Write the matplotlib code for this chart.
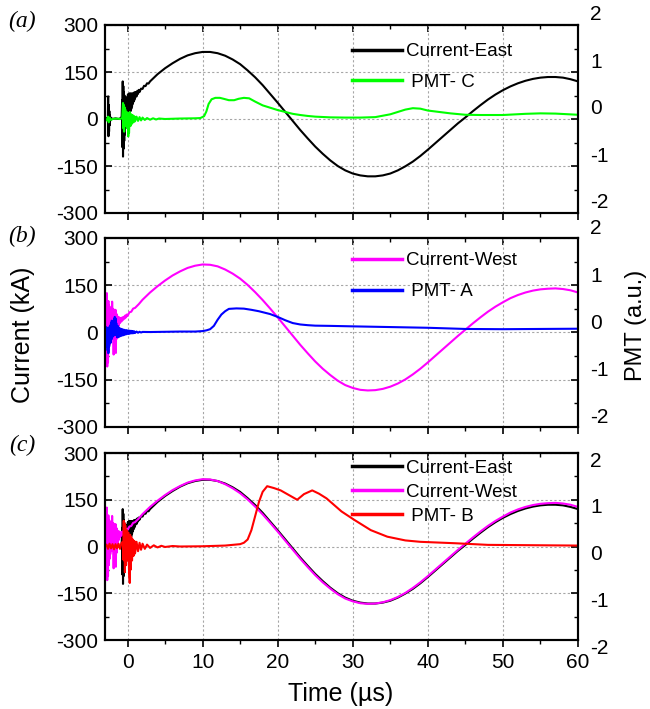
import numpy as np
import matplotlib.pyplot as plt
from matplotlib.ticker import MultipleLocator
from matplotlib.transforms import ScaledTranslation

plt.rcParams['font.family'] = ['Liberation Sans', 'DejaVu Sans']
plt.rcParams['axes.unicode_minus'] = False

# ---- data ----
# Current-East (kA)
east_t = [-3.0, -2.8, -2.62, -2.58, -2.54, -2.5, -2.46, -2.42, -2.38, -2.34,
          -2.3, -2.2, -2.0, -1.6, -1.2, -0.9, -0.78, -0.72, -0.68, -0.64,
          -0.6, -0.56, -0.52, -0.48, -0.44, -0.4, -0.36, -0.32, -0.28, -0.24,
          -0.2, -0.15, -0.1, -0.05, 0.0, 0.05, 0.1, 0.15, 0.2, 0.25,
          0.3, 0.35, 0.4, 0.45, 0.5, 0.55, 0.6, 0.65, 0.7, 0.75,
          0.8, 0.85, 0.9, 0.95, 1.0, 1.1, 1.2, 1.3, 1.4, 1.5,
          1.6, 1.8, 2.0, 2.2, 2.4, 2.6, 2.8, 3.0,
          4, 5, 6, 7, 8, 9, 10, 11, 12, 13, 14, 15, 16, 17, 18, 19, 20,
          21, 22, 23, 24, 25, 26, 27, 28, 29, 30, 31, 32, 33, 34, 35, 36,
          37, 38, 39, 40, 41, 42, 43, 44, 45, 46, 47, 48, 49, 50, 51, 52,
          53, 54, 55, 56, 57, 58, 59, 60]
east_i = [0, 3, -4, 72, -55, 45, -40, 25, -20, 12,
          -6, 4, 0, 2, 0, 3, 8, 60, -90, 120,
          -120, 105, -95, 85, -70, 75, -50, 60, -30, 55,
          -10, 65, 0, 70, 5, 78, 8, 80, 12, 82,
          18, 80, 25, 82, 32, 80, 40, 82, 48, 80,
          55, 84, 60, 85, 66, 86, 72, 90, 80, 93,
          86, 97, 96, 106, 105, 114, 113, 120,
          143, 162, 178, 192, 203, 210, 214, 214, 210, 202, 190, 175, 155, 133, 108, 80, 52,
          23, -6, -35, -62, -88, -111, -132, -150, -164, -174, -180, -183, -183, -180, -174, -164,
          -151, -136, -118, -98, -77, -56, -35, -14, 5, 25, 44, 62, 78, 92, 104, 114,
          122, 128, 132, 134, 134, 132, 127, 120]

# Current-West (kA)
west_t = [-3.0, -2.95, -2.9, -2.85, -2.8, -2.75, -2.7, -2.65, -2.6, -2.55,
          -2.5, -2.45, -2.4, -2.35, -2.3, -2.2, -2.1, -2.05, -2.0, -1.9,
          -1.85, -1.8, -1.7, -1.6, -1.55, -1.5, -1.45, -1.4, -1.35, -1.3,
          -1.2, -1.1, -1.0, -0.9, -0.8, -0.7, -0.6, -0.5, -0.4, -0.3,
          -0.2, -0.1, 0.0, 0.25, 0.5, 0.75, 1.0, 1.5,
          2, 3, 4, 5, 6, 7, 8, 9, 10, 11, 12, 13, 14, 15, 16, 17, 18, 19, 20,
          21, 22, 23, 24, 25, 26, 27, 28, 29, 30, 31, 32, 33, 34, 35, 36,
          37, 38, 39, 40, 41, 42, 43, 44, 45, 46, 47, 48, 49, 50, 51, 52,
          53, 54, 55, 56, 57, 58, 59, 60]
west_i = [0, 55, -35, 120, -60, 125, -108, 95, -95, 100,
          -60, 85, -40, 70, -25, 80, -15, 98, 5, 75,
          -70, 70, -40, 72, -65, 60, -20, 55, 0, 50,
          20, 48, 30, 45, 35, 48, 40, 50, 44, 54,
          48, 57, 53, 64, 66, 76, 78, 90,
          104, 127, 147, 165, 181, 194, 205, 212, 216, 215, 210, 200, 187, 171, 151, 128, 103, 76, 48,
          19, -10, -39, -66, -92, -115, -135, -153, -167, -176, -182, -184, -183, -179, -172, -162,
          -149, -133, -115, -95, -74, -53, -32, -11, 9, 29, 48, 66, 82, 96, 109, 119,
          127, 133, 137, 139, 140, 138, 134, 127]

# PMT-C (a.u.)
pmtc_t = [-3.0, -2.8, -2.6, -2.5, -2.4, -2.2, -2.0, -1.5, -1.0, -0.7,
          -0.6, -0.55, -0.5, -0.45, -0.4, -0.35, -0.3, -0.2, -0.1, 0.0,
          0.05, 0.1, 0.15, 0.2, 0.3, 0.4, 0.5, 0.6, 0.7, 0.8,
          0.9, 1.0, 1.2, 1.4, 1.6, 1.8, 2.0, 2.3, 2.6, 3.0,
          3.4, 3.8, 4.2, 5, 7, 9, 9.7, 10.2, 10.5, 10.8,
          11.2, 11.7, 12.3, 12.8, 13.5, 14.2, 14.8, 15.5, 16.2, 17,
          18, 19, 20, 21, 22, 23, 24, 25, 27, 29,
          31, 33, 35, 36, 37, 38, 39, 40, 41, 43,
          45, 47, 50, 53, 55, 57, 60]
pmtc_v = [0, -0.03, 0.05, -0.07, 0.03, -0.02, 0.0, 0.01, 0.0, 0.02,
          0.34, -0.2, 0.3, -0.27, 0.25, -0.15, 0.2, -0.1, 0.15, -0.2,
          0.1, -0.37, 0.12, -0.3, 0.15, -0.15, 0.1, -0.1, 0.08, -0.07,
          0.06, -0.05, 0.05, -0.04, 0.04, -0.03, 0.03, -0.02, 0.02, -0.015,
          0.015, -0.01, 0.01, 0.0, 0.01, 0.015, 0.02, 0.06, 0.16, 0.32,
          0.42, 0.45, 0.45, 0.43, 0.4, 0.4, 0.43, 0.45, 0.44, 0.37,
          0.29, 0.24, 0.19, 0.15, 0.11, 0.085, 0.065, 0.05, 0.035, 0.03,
          0.03, 0.04, 0.1, 0.15, 0.2, 0.23, 0.22, 0.18, 0.16, 0.12,
          0.09, 0.085, 0.085, 0.11, 0.12, 0.115, 0.09]

# PMT-A (a.u.)
pmta_t = [-3.0, -2.95, -2.9, -2.85, -2.8, -2.75, -2.7, -2.65, -2.6, -2.55,
          -2.5, -2.45, -2.4, -2.35, -2.3, -2.25, -2.2, -2.15, -2.1, -2.05,
          -2.0, -1.9, -1.8, -1.75, -1.7, -1.65, -1.6, -1.55, -1.5, -1.4,
          -1.3, -1.2, -1.1, -1.0, -0.9, -0.8, -0.7, -0.6, -0.5, -0.4,
          -0.3, -0.2, -0.1, 0.0, 0.1, 0.2, 0.3, 0.4, 0.5, 0.6,
          0.7, 0.8, 0.9, 1.0, 1.2, 1.4, 1.6, 1.8, 2.0,
          3, 5, 7, 9, 10, 10.5, 11, 11.5, 12, 12.5, 13, 13.5, 14.5, 15.5,
          16.5, 17.5, 18.5, 19, 20, 21, 22, 23, 24, 25, 27, 30,
          35, 40, 45, 50, 55, 60]
pmta_v = [0, -0.15, 0.12, -0.3, 0.08, -0.25, 0.1, -0.38, 0.05, -0.44,
          0.0, -0.3, 0.12, -0.2, 0.15, -0.22, 0.2, -0.15, 0.25, -0.1,
          0.22, -0.08, 0.28, -0.05, 0.33, 0.0, 0.3, -0.05, 0.2, -0.1,
          0.14, -0.1, 0.1, -0.08, 0.08, -0.07, 0.07, -0.06, 0.06, -0.05,
          0.05, -0.04, 0.05, -0.03, 0.04, -0.03, 0.04, -0.02, 0.035, -0.02,
          0.03, -0.015, 0.025, -0.01, 0.02, -0.005, 0.015, 0.0, 0.012,
          0.01, 0.015, 0.02, 0.02, 0.03, 0.045, 0.07, 0.14, 0.27, 0.38, 0.45, 0.5, 0.51, 0.505,
          0.48, 0.45, 0.41, 0.39, 0.33, 0.26, 0.2, 0.17, 0.155, 0.145, 0.14, 0.13,
          0.115, 0.1, 0.075, 0.07, 0.075, 0.08]

# PMT-B (a.u.)
pmtb_t = [-3.0, -2.8, -2.6, -2.4, -2.2, -2.0, -1.8, -1.6, -1.4, -1.2,
          -1.0, -0.8, -0.6, -0.55, -0.5, -0.45, -0.4, -0.35, -0.3, -0.2,
          -0.1, 0.0, 0.1, 0.2, 0.3, 0.35, 0.4, 0.5, 0.6, 0.7,
          0.8, 0.9, 1.0, 1.2, 1.4, 1.6, 1.8, 2.0, 2.3, 2.6,
          3.0, 3.5, 4.0, 4.5, 5.0, 6.0, 7.0,
          10, 13, 15, 15.5, 16, 16.5, 17, 17.5, 18, 18.6, 19.5, 20.4,
          21.5, 22.6, 23.5, 24.6, 25.5, 26.5, 27.5, 28.5, 30.2, 32.4,
          34.6, 37, 39, 43.6, 48, 60]
pmtb_v = [0, 0.04, -0.05, 0.06, -0.04, 0.05, -0.06, 0.05, -0.04, 0.06,
          -0.05, 0.08, 0.1, -0.28, 0.55, -0.3, 0.5, -0.55, 0.45, -0.4,
          0.35, -0.3, 0.3, -0.5, -0.78, 0.25, -0.5, 0.2, -0.3, 0.15,
          -0.2, 0.12, -0.15, 0.1, -0.1, 0.08, -0.07, 0.06, -0.05, 0.04,
          -0.03, 0.025, -0.02, 0.015, -0.01, 0.01, 0.0,
          0.005, 0.02, 0.05, 0.08, 0.15, 0.35, 0.65, 0.95, 1.17, 1.29, 1.25, 1.2,
          1.1, 1.0, 1.12, 1.2, 1.13, 1.03, 0.89, 0.75, 0.57, 0.35,
          0.21, 0.13, 0.1, 0.07, 0.035, 0.02]

# ---- figure ----
W, H = 650, 709
fig = plt.figure(figsize=(W / 100, H / 100), dpi=100)
x0, x1 = 105, 578
panels = [(25, 213), (238, 427), (453, 640)]
label_dy = [10, 9, -8]     # right tick labels sit off their ticks in the original
grid_kw = dict(color='#a6a6a6', linestyle=(0, (2, 2)), linewidth=0.8)
lw = 1.5
axes = []
for k, (top, bot) in enumerate(panels):
    ax = fig.add_axes([x0 / W, 1 - bot / H, (x1 - x0) / W, (bot - top) / H])
    ax.set_xlim(-3, 60)
    ax.set_ylim(-300, 300)
    ax.set_xticks(range(0, 61, 10))
    ax.xaxis.set_minor_locator(MultipleLocator(5))
    ax.set_yticks([-300, -150, 0, 150, 300])
    ax.yaxis.set_minor_locator(MultipleLocator(75))
    ax.grid(True, which='major', **grid_kw)
    ax.tick_params(axis='y', which='both', direction='in', labelsize=15, pad=5)
    ax.tick_params(axis='x', which='both', direction='out', labelsize=15, pad=4)
    ax.tick_params(which='major', length=5, width=1.2)
    ax.tick_params(which='minor', length=3, width=1.0)
    if k < 2:
        ax.tick_params(axis='x', labelbottom=False)
    for s in ax.spines.values():
        s.set_linewidth(1.5)
    sec = ax.secondary_xaxis('top')
    sec.set_xticks(range(0, 61, 10))
    sec.xaxis.set_minor_locator(MultipleLocator(5))
    sec.tick_params(which='both', direction='in', labeltop=False)
    sec.tick_params(which='major', length=5, width=1.2)
    sec.tick_params(which='minor', length=3, width=1.0)
    sec.spines['top'].set_linewidth(1.5)

    ax2 = ax.twinx()
    ax2.set_ylim(-2, 2)
    ax2.set_yticks([-2, -1, 0, 1, 2])
    ax2.yaxis.set_minor_locator(MultipleLocator(0.5))
    ax2.tick_params(which='both', direction='in', labelright=False)
    ax2.tick_params(which='major', length=5, width=1.2)
    ax2.tick_params(which='minor', length=3, width=1.0)
    for s in ax2.spines.values():
        s.set_linewidth(1.5)
    trans = ax2.get_yaxis_transform() + ScaledTranslation(12 / 100, label_dy[k] / 100,
                                                          fig.dpi_scale_trans)
    for v in [-2, -1, 0, 1, 2]:
        ax2.text(1.0, v, str(v), transform=trans, ha='left', va='center',
                 fontsize=15, clip_on=False)
    axes.append((ax, ax2))

leg_kw = dict(frameon=False, fontsize=13.5, handlelength=2.67, handletextpad=0.2,
              borderpad=0, borderaxespad=0, loc='upper left')
leg_x = (352 - x0) / (x1 - x0)

# (a)
ax, ax2 = axes[0]
h1, = ax.plot(east_t, east_i, color='black', lw=lw, label='Current-East')
h2, = ax2.plot(pmtc_t, pmtc_v, color='#00ff00', lw=lw, label=' PMT- C')
leg = ax2.legend(handles=[h1, h2], bbox_to_anchor=(leg_x, 0.903),
                 labelspacing=0.72, **leg_kw)
for lh in leg.legend_handles:
    lh.set_linewidth(2.5)

# (b)
ax, ax2 = axes[1]
h1, = ax.plot(west_t, west_i, color='#ff00ff', lw=lw, label='Current-West')
h2, = ax2.plot(pmta_t, pmta_v, color='#0000ff', lw=lw, label=' PMT- A')
leg = ax2.legend(handles=[h1, h2], bbox_to_anchor=(leg_x, 0.924),
                 labelspacing=0.72, **leg_kw)
for lh in leg.legend_handles:
    lh.set_linewidth(2.5)

# (c)
ax, ax2 = axes[2]
h1, = ax.plot(east_t, east_i, color='black', lw=lw, label='Current-East')
h2, = ax.plot(west_t, west_i, color='#ff00ff', lw=lw, label='Current-West')
h3, = ax2.plot(pmtb_t, pmtb_v, color='#ff0000', lw=lw, label=' PMT- B')
leg = ax2.legend(handles=[h1, h2, h3], bbox_to_anchor=(leg_x, 0.964),
                 labelspacing=0.36, **leg_kw)
for lh in leg.legend_handles:
    lh.set_linewidth(2.5)

# labels
for txt, yc in [('(a)', 21), ('(b)', 236), ('(c)', 445)]:
    fig.text(22 / W, 1 - yc / H, txt, family='Liberation Serif', style='italic',
             fontsize=17, ha='center', va='center')
fig.text(23 / W, 1 - 335 / H, 'Current (kA)', rotation=90, fontsize=18,
         ha='center', va='center')
fig.text(636 / W, 1 - 325 / H, 'PMT (a.u.)', rotation=90, fontsize=17,
         ha='center', va='center')
fig.text(341 / W, 1 - 694 / H, 'Time (µs)', fontsize=18, ha='center', va='center')

fig.savefig('out.png', dpi=100)
